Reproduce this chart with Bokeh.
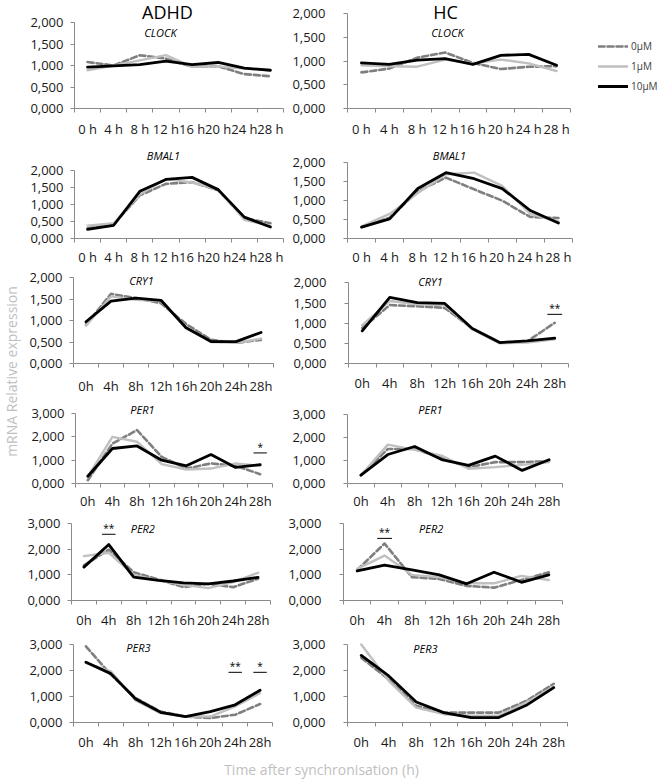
import math
from bokeh.plotting import figure
from bokeh.models import Range1d, FixedTicker, Label, Legend, LegendItem
from bokeh.layouts import row, column
from bokeh.core.properties import value
from bokeh.embed import file_html
from bokeh.resources import INLINE

# ---------------- data ----------------
TIME_LABELS_SPACED = ["0 h", "4 h", "8 h", "12 h", "16 h", "20 h", "24 h", "28 h"]
TIME_LABELS = ["0h", "4h", "8h", "12h", "16h", "20h", "24h", "28h"]
Y_TICKS_2 = [0, 0.5, 1, 1.5, 2]
Y_LABELS_2 = ["0,000", "0,500", "1,000", "1,500", "2,000"]
Y_TICKS_3 = [0, 1, 2, 3]
Y_LABELS_3 = ["0,000", "1,000", "2,000", "3,000"]
DOSES = ["0µM", "1µM", "10µM"]
GROUPS = ["ADHD", "HC"]
GENES = ["CLOCK", "BMAL1", "CRY1", "PER1", "PER2", "PER3"]

ADHD_CLOCK_0 = [1.08, 1.00, 1.24, 1.16, 0.97, 0.98, 0.80, 0.75]
ADHD_CLOCK_1 = [0.89, 1.00, 1.12, 1.24, 0.97, 0.98, 0.93, 0.89]
ADHD_CLOCK_10 = [0.96, 0.99, 1.02, 1.10, 1.02, 1.07, 0.94, 0.89]
HC_CLOCK_0 = [0.76, 0.84, 1.07, 1.18, 0.96, 0.83, 0.88, 0.89]
HC_CLOCK_1 = [0.91, 0.89, 0.88, 1.03, 0.95, 1.03, 0.95, 0.79]
HC_CLOCK_10 = [0.96, 0.93, 1.02, 1.05, 0.93, 1.12, 1.14, 0.91]

ADHD_BMAL1_0 = [0.30, 0.42, 1.27, 1.61, 1.66, 1.42, 0.60, 0.45]
ADHD_BMAL1_1 = [0.38, 0.45, 1.30, 1.75, 1.65, 1.45, 0.55, 0.38]
ADHD_BMAL1_10 = [0.27, 0.39, 1.39, 1.74, 1.80, 1.44, 0.63, 0.34]
HC_BMAL1_0 = [0.30, 0.55, 1.25, 1.61, 1.30, 1.00, 0.57, 0.54]
HC_BMAL1_1 = [0.32, 0.65, 1.20, 1.70, 1.74, 1.39, 0.65, 0.45]
HC_BMAL1_10 = [0.30, 0.52, 1.32, 1.74, 1.58, 1.32, 0.74, 0.41]

ADHD_CRY1_0 = [0.90, 1.62, 1.52, 1.40, 0.92, 0.55, 0.48, 0.55]
ADHD_CRY1_1 = [0.88, 1.56, 1.48, 1.45, 0.85, 0.50, 0.48, 0.58]
ADHD_CRY1_10 = [0.97, 1.45, 1.52, 1.47, 0.83, 0.51, 0.51, 0.72]
HC_CRY1_0 = [0.88, 1.45, 1.42, 1.38, 0.87, 0.52, 0.55, 1.01]
HC_CRY1_1 = [0.95, 1.55, 1.47, 1.45, 0.85, 0.50, 0.52, 0.60]
HC_CRY1_10 = [0.81, 1.64, 1.51, 1.49, 0.87, 0.52, 0.56, 0.63]

ADHD_PER1_0 = [0.14, 1.71, 2.29, 1.14, 0.64, 0.86, 0.76, 0.40]
ADHD_PER1_1 = [0.29, 2.00, 1.79, 0.83, 0.60, 0.64, 0.86, 0.75]
ADHD_PER1_10 = [0.31, 1.50, 1.61, 1.00, 0.76, 1.24, 0.69, 0.81]
HC_PER1_0 = [0.36, 1.50, 1.50, 1.11, 0.71, 0.93, 0.93, 0.97]
HC_PER1_1 = [0.36, 1.69, 1.46, 1.21, 0.64, 0.71, 0.81, 0.93]
HC_PER1_10 = [0.36, 1.26, 1.61, 1.04, 0.79, 1.19, 0.57, 1.03]

ADHD_PER2_0 = [1.37, 1.98, 1.10, 0.82, 0.52, 0.65, 0.52, 0.85]
ADHD_PER2_1 = [1.73, 1.86, 1.00, 0.78, 0.61, 0.48, 0.72, 1.08]
ADHD_PER2_10 = [1.30, 2.18, 0.91, 0.78, 0.69, 0.65, 0.76, 0.90]
HC_PER2_0 = [1.19, 2.22, 0.91, 0.84, 0.57, 0.50, 0.80, 1.10]
HC_PER2_1 = [1.23, 1.75, 1.00, 0.91, 0.67, 0.67, 0.96, 0.80]
HC_PER2_10 = [1.15, 1.38, 1.19, 1.00, 0.65, 1.10, 0.71, 1.00]

ADHD_PER3_0 = [2.93, 1.84, 0.94, 0.42, 0.23, 0.17, 0.30, 0.71]
ADHD_PER3_1 = [2.29, 1.97, 0.85, 0.36, 0.23, 0.23, 0.62, 1.13]
ADHD_PER3_10 = [2.32, 1.88, 0.90, 0.39, 0.23, 0.42, 0.68, 1.24]
HC_PER3_0 = [2.49, 1.66, 0.64, 0.38, 0.38, 0.38, 0.83, 1.49]
HC_PER3_1 = [3.00, 1.60, 0.57, 0.32, 0.26, 0.26, 0.77, 1.38]
HC_PER3_10 = [2.58, 1.79, 0.79, 0.38, 0.19, 0.19, 0.66, 1.34]

# significance marks: (time label, bar level, stars)
SIG_HC_CRY1 = [("28h", 1.22, "**")]
SIG_ADHD_PER1 = [("28h", 1.31, "*")]
SIG_ADHD_PER2 = [("4h", 2.58, "**")]
SIG_HC_PER2 = [("4h", 2.42, "**")]
SIG_ADHD_PER3 = [("24h", 1.93, "**"), ("28h", 1.93, "*")]

SERIES = {
    ("ADHD", "CLOCK"): (ADHD_CLOCK_0, ADHD_CLOCK_1, ADHD_CLOCK_10),
    ("HC", "CLOCK"): (HC_CLOCK_0, HC_CLOCK_1, HC_CLOCK_10),
    ("ADHD", "BMAL1"): (ADHD_BMAL1_0, ADHD_BMAL1_1, ADHD_BMAL1_10),
    ("HC", "BMAL1"): (HC_BMAL1_0, HC_BMAL1_1, HC_BMAL1_10),
    ("ADHD", "CRY1"): (ADHD_CRY1_0, ADHD_CRY1_1, ADHD_CRY1_10),
    ("HC", "CRY1"): (HC_CRY1_0, HC_CRY1_1, HC_CRY1_10),
    ("ADHD", "PER1"): (ADHD_PER1_0, ADHD_PER1_1, ADHD_PER1_10),
    ("HC", "PER1"): (HC_PER1_0, HC_PER1_1, HC_PER1_10),
    ("ADHD", "PER2"): (ADHD_PER2_0, ADHD_PER2_1, ADHD_PER2_10),
    ("HC", "PER2"): (HC_PER2_0, HC_PER2_1, HC_PER2_10),
    ("ADHD", "PER3"): (ADHD_PER3_0, ADHD_PER3_1, ADHD_PER3_10),
    ("HC", "PER3"): (HC_PER3_0, HC_PER3_1, HC_PER3_10),
}
SIGS = {
    ("HC", "CRY1"): SIG_HC_CRY1,
    ("ADHD", "PER1"): SIG_ADHD_PER1,
    ("ADHD", "PER2"): SIG_ADHD_PER2,
    ("HC", "PER2"): SIG_HC_PER2,
    ("ADHD", "PER3"): SIG_ADHD_PER3,
}
ROW_TIME_LABELS = [TIME_LABELS_SPACED, TIME_LABELS_SPACED, TIME_LABELS, TIME_LABELS, TIME_LABELS, TIME_LABELS]
ROW_YMAX = [2, 2, 2, 3, 3, 3]

# ---------------- layout (page pixels) ----------------
FONT = "Open Sans"
STRIP_W = 24
COL_X = {"ADHD": (24, 285), "HC": (285, 667)}
ROW_Y = [(0, 141), (141, 268), (268, 398), (398, 512), (512, 631), (631, 753)]
FRAMES = {
    "ADHD": [(74, 283, 22, 108), (74, 283, 171, 241), (73, 273, 277, 363),
             (75, 272, 413, 483), (69, 270, 523, 600), (73, 272, 644, 722)],
    "HC": [(347, 570, 13, 108), (347, 572, 163, 241), (348, 568, 283, 367),
           (347, 562, 414, 483), (342, 562, 523, 600), (347, 567, 644, 722)],
}
XLAB_STANDOFF = {"ADHD": [7, 5, 9, 4, 6, 6], "HC": [7, 5, 6, 4, 6, 6]}
TITLE_POS = {
    "ADHD": [(160, 32), (163, 155), (141, 280), (142, 409), (141, 528), (138, 647)],
    "HC": [(447, 32), (449, 155), (430, 282), (430, 409), (430, 528), (425, 648)],
}
HEADER_POS = {"ADHD": (167, 11), "HC": (445, 11)}
LEGEND_TOPLEFT = (598, 36)
YLAB_STANDOFF = {"ADHD": 7, "HC": 18}
STYLES = [
    dict(line_color="#7f7f7f", line_width=2.6, line_dash="6 3"),
    dict(line_color="#c0c0c0", line_width=2.4),
    dict(line_color="#000000", line_width=2.8),
]
AXIS_COLOR = "#8a8a8a"


def build_panel(group, r):
    gene = GENES[r]
    labels = ROW_TIME_LABELS[r]
    ymax = ROW_YMAX[r]
    x0, x1 = COL_X[group]
    top, bottom = ROW_Y[r]
    fl, fr, ft, fb = FRAMES[group][r]
    n = len(labels)
    with_legend = (group == "HC" and r == 0)
    # the frame reaches up to the row top (the axis itself keeps to its bounds),
    # so titles and legend drawn above the axis are not clipped
    y_end = ymax * (fb - top) / (fb - ft)
    fr_eff = x1 if with_legend else fr
    x_end = n * (fr_eff - fl) / (fr - fl)
    p = figure(width=x1 - x0, height=bottom - top,
               x_range=Range1d(0, x_end), y_range=Range1d(0, y_end),
               output_backend="svg", toolbar_location=None,
               min_border_left=fl - x0, min_border_right=x1 - fr_eff,
               min_border_top=0, min_border_bottom=bottom - fb,
               outline_line_color=None, background_fill_color="white",
               border_fill_color="white")
    p.grid.visible = False
    centers = [i + 0.5 for i in range(n)]

    xa = p.xaxis[0]
    xa.ticker = FixedTicker(ticks=centers, minor_ticks=list(range(n + 1)))
    xa.bounds = (0, n)
    xa.major_label_overrides = {c: lab for c, lab in zip(centers, labels)}
    xa.major_tick_line_color = None
    xa.major_tick_out = 4
    xa.major_tick_in = 0
    xa.minor_tick_out = 4
    xa.minor_tick_in = 0
    xa.minor_tick_line_color = AXIS_COLOR
    xa.axis_line_color = AXIS_COLOR
    xa.major_label_text_font = FONT
    xa.major_label_text_font_size = "13px"
    xa.major_label_text_color = "#1a1a1a"
    xa.major_label_standoff = XLAB_STANDOFF[group][r]

    ya = p.yaxis[0]
    ticks = Y_TICKS_2 if ymax == 2 else Y_TICKS_3
    tlabels = Y_LABELS_2 if ymax == 2 else Y_LABELS_3
    ya.ticker = FixedTicker(ticks=ticks)
    ya.bounds = (0, ymax)
    ya.major_label_overrides = {t: s for t, s in zip(ticks, tlabels)}
    ya.major_tick_out = 4
    ya.major_tick_in = 0
    ya.minor_tick_line_color = None
    ya.major_tick_line_color = AXIS_COLOR
    ya.axis_line_color = AXIS_COLOR
    ya.major_label_text_font = FONT
    ya.major_label_text_font_size = "13px"
    ya.major_label_text_color = "#1a1a1a"
    ya.major_label_standoff = YLAB_STANDOFF[group]

    renderers = []
    for vals, st in zip(SERIES[(group, gene)], STYLES):
        rr = p.line(x=centers, y=vals, line_join="round", line_cap="round", **st)
        renderers.append(rr)

    for lab, lvl, stars in SIGS.get((group, gene), []):
        c = labels.index(lab) + 0.5
        p.segment(x0=[c - 0.27], x1=[c + 0.27], y0=[lvl], y1=[lvl],
                  line_color="#000000", line_width=1)
        p.text(x=[c], y=[lvl], text=[stars], text_align="center",
               text_baseline="bottom", y_offset=1,
               text_font=value(FONT), text_font_size="10px", text_color="#000000")

    cat_w = (fr - fl) / n
    tx, ty = TITLE_POS[group][r]
    p.add_layout(Label(x=(tx - fl) / cat_w, y=ymax * (fb - ty) / (fb - ft), text=gene,
                       text_align="center", text_baseline="middle",
                       text_font=FONT, text_font_size="11px", text_font_style="italic",
                       text_color="#000000"))
    if r == 0:
        hx, hy = HEADER_POS[group]
        p.add_layout(Label(x=(hx - fl) / cat_w, y=ymax * (fb - hy) / (fb - ft), text=group,
                           text_align="center", text_baseline="middle",
                           text_font=FONT, text_font_size="18px", text_color="#000000"))
    if with_legend:
        lx, ly = LEGEND_TOPLEFT
        items = [LegendItem(label=d, renderers=[rr]) for d, rr in zip(DOSES, renderers)]
        leg = Legend(items=items, location=(lx - fl, fb - (ly + 60)),
                     glyph_width=30, glyph_height=20, label_height=20,
                     label_standoff=3, spacing=0, padding=0, margin=0,
                     border_line_color=None, background_fill_alpha=0,
                     label_text_font=FONT, label_text_font_size="10px",
                     label_text_color="#404040")
        p.add_layout(leg)
    return p


def text_fig(w, h):
    f = figure(width=w, height=h, x_range=Range1d(0, w), y_range=Range1d(0, h),
               output_backend="svg", toolbar_location=None, min_border=0,
               outline_line_color=None, x_axis_location=None, y_axis_location=None,
               border_fill_color="white", background_fill_color="white")
    f.grid.visible = False
    return f


rows = []
for r in range(len(GENES)):
    rows.append(row(build_panel("ADHD", r), build_panel("HC", r)))
grid = column(*rows)

strip_h = ROW_Y[-1][1] - ROW_Y[0][0]
ystrip = text_fig(STRIP_W, strip_h)
ystrip.add_layout(Label(x=11, y=strip_h - 371, text="mRNA Relative expression",
                        angle=math.pi / 2, text_align="center", text_baseline="middle",
                        text_font=FONT, text_font_size="14px", text_color="#bfbfbf"))

xfig_h = 26
xfig = text_fig(667, xfig_h)
xfig.add_layout(Label(x=321, y=xfig_h - (769 - ROW_Y[-1][1]), text="Time after synchronisation (h)",
                      text_align="center", text_baseline="middle",
                      text_font=FONT, text_font_size="14px", text_color="#bfbfbf"))

page = column(row(ystrip, grid), xfig)

with open("out.html", "w") as fh:
    fh.write(file_html(page, INLINE))
